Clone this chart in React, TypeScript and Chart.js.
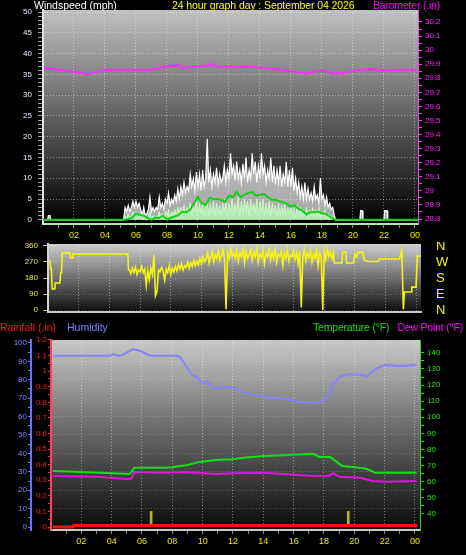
import React, { useEffect, useRef } from 'react';
import { Chart, registerables } from 'chart.js';

Chart.register(...registerables);

const FONT = '"Liberation Sans", Arial, Helvetica, sans-serif';
Chart.defaults.font.family = FONT;

// ---------- shared hour axis ----------
const hourTicks = [1, 2, 3, 4, 5, 6, 7, 8, 9, 10, 11, 12, 13, 14, 15, 16, 17, 18, 19, 20, 21, 22, 23, 24];

// ---------- panel 1 : wind (mph) & barometer (in) ----------
const windTickValues = Array.from({ length: 51 }, (_, i) => i);
const baroTickValues = [28.8, 28.85, 28.9, 28.95, 29, 29.05, 29.1, 29.15, 29.2, 29.25, 29.3, 29.35, 29.4, 29.45, 29.5, 29.55, 29.6, 29.65, 29.7, 29.75, 29.8, 29.85, 29.9, 29.95, 30, 30.05, 30.1, 30.15, 30.2];

const baroHours = [0.06, 1.1, 1.9, 2.85, 3.35, 3.9, 5.0, 6.9, 7.4, 7.75, 8.4, 8.85, 9.0, 9.5, 10.6, 11.0, 11.2, 12.3, 12.7, 13.5, 14.2, 15.0, 15.9, 16.6, 17.0, 17.6, 18.2, 18.7, 19.5, 20.5, 21.2, 21.9, 23.0, 24.1];
const baroValues = [29.873, 29.86, 29.847, 29.83, 29.84, 29.86, 29.86, 29.86, 29.87, 29.88, 29.89, 29.89, 29.87, 29.88, 29.89, 29.9, 29.88, 29.885, 29.88, 29.88, 29.875, 29.865, 29.85, 29.84, 29.83, 29.85, 29.855, 29.83, 29.84, 29.86, 29.865, 29.855, 29.86, 29.86];

// gusts: quiet periods
const gustEarlyHours = [0, 0.3, 0.35, 0.45, 0.5, 5.1];
const gustEarly = [0, 0, 1, 1, 0, 0];
const gustLateHours = [19.0, 20.45, 20.5, 20.6, 20.65, 22.0, 22.05, 22.2, 22.25, 24.2];
const gustLate = [0, 0, 2.2, 2.2, 0, 0, 2.2, 2.2, 0, 0];

// active period: readings every 0.1 h from 5.2 h
const windStart = 5.2;
const windStep = 0.1;
const windGust = [
  0, 3, 2, 3.5, 2, 3, 4.5, 3, 4.5, 3,
  4, 2.5, 1, 3, 1, 1.5, 2.5, 5.5, 2, 3,
  2, 3, 2.5, 5.5, 3, 4, 2.5, 5, 4, 6.5,
  3.5, 5, 4, 6, 4.5, 7.5, 5, 8, 6, 9,
  6.5, 8, 7, 11, 8, 10, 7, 11.5, 8, 11,
  7, 12, 8, 10, 19.5, 9, 12, 8, 11, 9,
  12.5, 8.5, 11, 9, 10, 13, 9, 12, 10, 16,
  11, 13, 9.5, 14, 10, 12, 9, 13.5, 10, 15,
  9, 12, 10, 16, 11, 14, 9, 13, 10, 16,
  11, 13, 9, 12, 10, 15, 9, 13, 8.5, 12,
  9, 13, 8, 11, 9, 14, 8, 12, 8, 12.5,
  7, 10, 6.5, 9, 5.5, 8, 5, 9, 5, 7.5,
  5, 6.5, 4.5, 8, 5, 6, 4, 10, 5, 6,
  3.5, 5.5, 3, 4, 2.5, 3, 1, 0,
];
const windSpeed = [
  0, 1, 0, 1.5, 0.5, 1, 2, 0.5, 2, 1,
  1.5, 0.5, 0, 1, 0, 0, 1, 2, 0, 1,
  0, 1, 0.5, 2, 0.5, 1.5, 0, 2, 1, 2.5,
  0.5, 2, 1, 2.5, 1, 3, 1.5, 3, 1, 3.5,
  1, 3, 1.5, 4, 1, 3.5, 2, 4.5, 1, 4,
  1.5, 4, 1, 3.5, 4.5, 1, 4, 1.5, 4.5, 1,
  4, 1.5, 3.5, 1, 4, 2, 4.5, 1, 4, 2,
  5, 1.5, 4, 2, 5.5, 1, 4.5, 1.5, 5, 2,
  4.5, 1, 5, 2, 4, 1.5, 5, 1, 4.5, 2,
  5, 1, 4, 1.5, 4.5, 1, 4, 1.5, 3.5, 1,
  4, 1, 3.5, 1.5, 4, 1, 3, 1.5, 3.5, 1,
  3, 0.5, 3.5, 1, 3, 0.5, 2.5, 1, 3, 0.5,
  2.5, 1, 3, 0.5, 2.5, 1, 3, 0.5, 2, 1,
  2.5, 0.5, 1.5, 1, 1, 0.5, 0, 0,
];
const calmHoursBefore = [0, 5.1];
const calmHoursAfter = [19.0, 24.2];

// 10-minute average, every 0.25 h from 5.25 h
const avgStart = 5.25;
const avgStep = 0.25;
const windAverage = [
  0, 0.2, 0.5, 1.5, 1.2, 1, 0.5, 0, 0.5, 0.5, 1, 0, 0.5, 0.8, 1.2, 2, 1.8, 2.5, 4, 5.5,
  4, 3.6, 5.3, 5, 5, 4.8, 4.3, 5.8, 5.5, 6.7, 5.5, 6, 6.5, 6.7, 5.8, 6, 6.2, 5.5, 4.9,
  4.8, 4.5, 4.2, 3.8, 3.2, 3.5, 2.6, 2.2, 1.3, 1.8, 1.8, 2, 1.6, 1.4, 0.8, 0.2, 0,
];

// ---------- panel 2 : wind direction ----------
const dirTickValues = [0, 90, 180, 270, 360];
const dirCompass = ['N', 'E', 'S', 'W', 'N'];
const dirEarlyHours = [0.13, 0.18, 0.22, 0.27, 0.45, 0.47, 0.78, 0.82, 0.88, 0.93, 1.43, 1.47, 1.58, 1.62, 5.2, 5.25];
const dirEarly = [281, 232, 232, 118, 118, 152, 152, 208, 208, 320, 320, 292, 292, 315, 315, 225];
const dirStart = 5.3;
const dirStep = 0.1;
const dirActive = [
  225, 205, 235, 210, 240, 200, 225, 215, 245, 210,
  230, 140, 220, 170, 235, 200, 310, 80, 105, 225,
  215, 240, 220, 170, 230, 210, 250, 200, 235, 215,
  245, 220, 255, 230, 260, 225, 250, 240, 270, 235,
  265, 245, 280, 250, 275, 255, 290, 260, 300, 270,
  285, 320, 265, 300, 330, 270, 310, 290, 335, 280,
  305, 340, 285, 5, 320, 290, 345, 300, 320, 290,
  335, 275, 320, 300, 345, 265, 330, 290, 310, 340,
  280, 325, 300, 350, 270, 315, 295, 335, 260, 320,
  300, 340, 280, 325, 290, 345, 270, 315, 300, 330,
  250, 320, 290, 340, 275, 310, 300, 335, 285, 320,
  260, 330, 15, 300, 340, 280, 320, 295, 335, 270,
  315, 290, 340, 250, 320, 300, 0, 330, 285, 345,
  300, 325, 290, 320,
];
const dirLateHours = [18.65, 19.15, 19.2, 19.4, 19.45, 19.9, 20.0, 20.1, 20.2, 20.5, 20.6, 20.85, 21.5, 21.6, 22.9, 23.05, 23.15, 23.22, 23.65, 23.7, 23.98, 24.05, 24.3];
const dirLate = [264, 264, 326, 326, 264, 264, 315, 298, 324, 324, 281, 273, 273, 287, 287, 337, 5, 101, 101, 129, 129, 303, 303];

// ---------- panel 3 : rain, humidity, temperature, dew point ----------
const humTickValues = Array.from({ length: 21 }, (_, i) => i * 5);
const rainTickValues = Array.from({ length: 25 }, (_, i) => i * 0.05);
const tempTickValues = Array.from({ length: 21 }, (_, i) => 40 + i * 5);

const humHours = [0.13, 3.9, 4.1, 4.4, 4.75, 5.4, 5.9, 6.3, 6.6, 8.3, 8.5, 9.0, 9.3, 9.6, 10.0, 10.3, 10.7, 12.0, 12.7, 14.0, 15.3, 16.4, 17.5, 18.1, 18.4, 18.6, 19.1, 19.7, 20.6, 20.8, 21.0, 21.4, 22.0, 23.0, 24.1];
const humValues = [93, 93, 94, 93, 93.5, 96.7, 95.6, 94, 93, 93, 92.4, 86.4, 82.6, 81.5, 77.7, 79.3, 75.5, 76, 73, 70.7, 70, 68, 67.4, 69, 73.4, 78, 82, 83, 82.6, 81.5, 83, 85.9, 88, 87.5, 88];

const tempHours = [0.13, 1.5, 3.2, 5.2, 5.5, 7.6, 8.0, 9.0, 9.8, 10.9, 12.0, 12.7, 14.0, 15.3, 17.3, 17.7, 18.4, 19.2, 19.9, 20.8, 21.4, 24.1];
const tempValues = [66.7, 66.2, 65.5, 64.8, 68.6, 68.6, 69, 70.4, 72.3, 73.5, 74, 74.8, 76, 76.5, 77.3, 75.4, 75.4, 69.8, 69.2, 68, 65.5, 65.5];

const dewHours = [0.13, 3.2, 3.9, 4.9, 5.3, 5.5, 7.6, 8.7, 10.9, 12.0, 14.0, 15.3, 17.3, 18.3, 18.6, 19.0, 20.4, 21.2, 22.1, 24.1];
const dewValues = [63.6, 63, 62.4, 61.7, 62, 66, 65.5, 66, 64.8, 65.2, 65.5, 64.8, 63.6, 63.5, 65.5, 63, 62.4, 60.5, 59.9, 60.5];

const rainHours = [0.13, 1.45, 1.5, 24.05, 24.1];
const rainValues = [0, 0, 0.01, 0.01, 0];

const rainRateHours = [6.6, 19.6];
const rainRateValues = [0.1, 0.1];

// ---------- helpers ----------
const pts = (xs: number[], ys: number[]) => xs.map((x, i) => ({ x, y: ys[i] }));
const stepPts = (start: number, step: number, ys: number[]) => ys.map((y, i) => ({ x: start + i * step, y }));
const zeros = (xs: number[]) => xs.map((x) => ({ x, y: 0 }));

const fixW = (w: number) => (s: any) => { s.width = w; s.paddingTop = 0; s.paddingBottom = 0; };
const fixH = (h: number) => (s: any) => { s.height = h; s.paddingLeft = 0; s.paddingRight = 0; };
const setTicks = (vals: number[]) => (s: any) => { s.ticks = vals.map((v) => ({ value: v })); };
const hourLabel = (v: any) => (Number(v) % 2 === 0 ? String(Number(v) % 24).padStart(2, '0') : '');

const DOT = 'rgba(255,255,255,0.42)';

const bgPlugin = (stops: [number, string][]) => ({
  id: 'panelBg',
  beforeDraw(chart: any) {
    const { ctx, chartArea: a } = chart;
    const g = ctx.createLinearGradient(0, a.top, 0, a.bottom);
    stops.forEach(([o, c]) => g.addColorStop(o, c));
    ctx.save();
    ctx.fillStyle = g;
    ctx.fillRect(a.left, a.top, a.right - a.left, a.bottom - a.top);
    ctx.restore();
  },
});

const baseOptions = (padTop: number) => ({
  animation: false,
  responsive: false,
  maintainAspectRatio: false,
  events: [],
  layout: { autoPadding: false, padding: { top: padTop, left: 0, right: 0, bottom: 0 } },
  plugins: { legend: { display: false }, tooltip: { enabled: false }, title: { display: false } },
  elements: { point: { radius: 0 }, line: { tension: 0 } },
});

const hourAxis = (max: number, height: number, showLabels: boolean, borderColor: string) => ({
  type: 'linear',
  min: 0,
  max,
  offset: false,
  afterFit: fixH(height),
  afterBuildTicks: setTicks(hourTicks),
  ticks: {
    display: showLabels,
    autoSkip: false,
    maxRotation: 0,
    color: '#e8e800',
    font: { size: 9 },
    padding: 2,
    callback: hourLabel,
  },
  grid: {
    offset: false,
    color: (c: any) => (c.tick && c.tick.value % 2 === 0 ? DOT : 'transparent'),
    tickColor: '#8a8a8a',
    tickLength: showLabels ? 4 : 0,
    drawTicks: showLabels,
  },
  border: { color: borderColor, width: 2, dash: [1, 2] },
});

export default function App() {
  const ref1 = useRef<HTMLCanvasElement>(null);
  const ref2 = useRef<HTMLCanvasElement>(null);
  const ref3 = useRef<HTMLCanvasElement>(null);

  useEffect(() => {
    const gustPts = [...pts(gustEarlyHours, gustEarly), ...stepPts(windStart, windStep, windGust), ...pts(gustLateHours, gustLate)];
    const speedPts = [...zeros(calmHoursBefore), ...stepPts(windStart, windStep, windSpeed), ...zeros(calmHoursAfter)];
    const avgPts = [...zeros(calmHoursBefore), ...stepPts(avgStart, avgStep, windAverage), ...zeros(calmHoursAfter)];

    const c1 = new Chart(ref1.current as HTMLCanvasElement, {
      type: 'line',
      data: {
        datasets: [
          { label: 'Barometer', data: pts(baroHours, baroValues), yAxisID: 'yb', borderColor: '#ff2cff', borderWidth: 2, fill: false, order: 0 },
          { label: 'Average wind', data: avgPts, yAxisID: 'y', borderColor: '#14d014', borderWidth: 2, fill: false, order: 1 },
          { label: 'Wind speed', data: speedPts, yAxisID: 'y', borderColor: '#c8f8c8', backgroundColor: 'rgba(180,240,180,0.92)', borderWidth: 1, fill: 'origin', order: 2 },
          { label: 'Wind gust', data: gustPts, yAxisID: 'y', borderColor: '#ffffff', backgroundColor: 'rgba(232,232,232,0.72)', borderWidth: 1.2, fill: 'origin', order: 3 },
        ],
      },
      options: {
        ...baseOptions(10),
        scales: {
          x: hourAxis(24.2, 18, true, '#a8eca8'),
          y: {
            position: 'left',
            min: -1,
            max: 50.5,
            afterFit: fixW(43),
            afterBuildTicks: setTicks(windTickValues),
            ticks: { color: '#e2eaff', font: { size: 8 }, padding: 6, autoSkip: false, callback: (v: any) => (v % 5 === 0 ? String(v) : '') },
            grid: { color: (c: any) => (c.tick && c.tick.value % 5 === 0 ? DOT : 'transparent'), tickColor: '#9a9a9a', tickLength: 5 },
            border: { color: '#e4e4e4', width: 2, dash: [1, 2] },
          },
          yb: {
            position: 'right',
            min: 28.7645,
            max: 30.285,
            afterFit: fixW(48),
            afterBuildTicks: setTicks(baroTickValues),
            ticks: {
              color: '#ff22ff',
              font: { size: 8 },
              padding: 3,
              autoSkip: false,
              callback: (v: any) => {
                const t = Math.round(v * 100);
                return t % 10 === 0 ? String(t / 100) : '';
              },
            },
            grid: { drawOnChartArea: false, tickColor: '#ff30ff', tickLength: 4 },
            border: { color: '#e050e0', width: 1 },
          },
        },
      } as any,
      plugins: [bgPlugin([[0, '#c0c0c0'], [0.45, '#6a6a6a'], [1, '#000000']])],
    } as any);

    const dirPts = [...pts(dirEarlyHours, dirEarly), ...stepPts(dirStart, dirStep, dirActive), ...pts(dirLateHours, dirLate)];

    const c2 = new Chart(ref2.current as HTMLCanvasElement, {
      type: 'line',
      data: {
        datasets: [
          { label: 'Wind direction', data: dirPts, yAxisID: 'y', borderColor: '#f4f414', borderWidth: 1.6, fill: false },
        ],
      },
      options: {
        ...baseOptions(2),
        scales: {
          x: hourAxis(24.3, 6, false, '#c8c8c8'),
          y: {
            position: 'left',
            min: -11,
            max: 371,
            afterFit: fixW(48),
            afterBuildTicks: setTicks(dirTickValues),
            ticks: { color: '#e4e460', font: { size: 8 }, padding: 5, autoSkip: false },
            grid: { color: 'rgba(255,255,255,0.22)', tickColor: '#c8c850', tickLength: 5 },
            border: { color: '#d4d4d4', width: 2, dash: [1, 2] },
          },
          yc: {
            position: 'right',
            min: -11,
            max: 371,
            afterFit: fixW(45),
            afterBuildTicks: setTicks(dirTickValues),
            ticks: { color: '#f4f414', font: { size: 13 }, padding: 15, autoSkip: false, callback: (v: any) => dirCompass[dirTickValues.indexOf(Number(v))] },
            grid: { drawOnChartArea: false, drawTicks: false },
            border: { display: false },
          },
        },
      } as any,
      plugins: [bgPlugin([[0, '#cecece'], [0.5, '#6e6e6e'], [1, '#0e0e0e']])],
    } as any);

    const c3 = new Chart(ref3.current as HTMLCanvasElement, {
      type: 'line',
      data: {
        datasets: [
          { label: 'Humidity', data: pts(humHours, humValues), yAxisID: 'yh', borderColor: '#8484ff', borderWidth: 2, fill: false, order: 1 },
          { label: 'Temperature', data: pts(tempHours, tempValues), yAxisID: 'yt', borderColor: '#12e012', borderWidth: 2, fill: false, order: 1 },
          { label: 'Dew Point', data: pts(dewHours, dewValues), yAxisID: 'yt', borderColor: '#e014e0', borderWidth: 2, fill: false, order: 1 },
          { label: 'Rainfall', data: pts(rainHours, rainValues), yAxisID: 'yr', borderColor: '#ff1010', borderWidth: 3, fill: false, order: 0 },
          { type: 'bar', label: 'Rain rate', data: pts(rainRateHours, rainRateValues), yAxisID: 'yr', backgroundColor: '#b4b428', barThickness: 2, order: 2 },
        ],
      },
      options: {
        ...baseOptions(22),
        scales: {
          x: hourAxis(24.33, 25, true, '#c8c8c8'),
          yh: {
            position: 'left',
            weight: 1,
            min: -1.6,
            max: 101.6,
            afterFit: fixW(31),
            afterBuildTicks: setTicks(humTickValues),
            ticks: { color: '#8484ff', font: { size: 8 }, padding: 1, autoSkip: false, callback: (v: any) => (v % 10 === 0 ? String(v) : '') },
            grid: { color: (c: any) => (c.tick && c.tick.value % 10 === 0 && c.tick.value > 0 ? 'rgba(255,255,255,0.22)' : 'transparent'), tickColor: '#7a7aff', tickLength: 3 },
            border: { color: '#7070ff', width: 2, dash: [1, 2] },
          },
          yr: {
            position: 'left',
            weight: 0,
            min: -0.019,
            max: 1.2,
            afterFit: fixW(20),
            afterBuildTicks: setTicks(rainTickValues),
            ticks: {
              color: '#ff1818',
              font: { size: 8 },
              padding: 1,
              autoSkip: false,
              callback: (v: any) => {
                const t = Math.round(v * 100);
                return t % 10 === 0 ? String(t / 100) : '';
              },
            },
            grid: { drawOnChartArea: false, tickColor: '#ff3030', tickLength: 3 },
            border: { color: '#ff4646', width: 2 },
          },
          yt: {
            position: 'right',
            min: 30,
            max: 148,
            afterFit: fixW(46),
            afterBuildTicks: setTicks(tempTickValues),
            ticks: { color: '#22e022', font: { size: 8 }, padding: 3, autoSkip: false, callback: (v: any) => (v % 10 === 0 ? String(v) : '') },
            grid: { drawOnChartArea: false, tickColor: '#22e022', tickLength: 4 },
            border: { color: '#30d030', width: 1 },
          },
        },
      } as any,
      plugins: [bgPlugin([[0, '#c8c8c8'], [0.47, '#6a6a6a'], [1, '#0a0a0a']])],
    } as any);

    return () => {
      c1.destroy();
      c2.destroy();
      c3.destroy();
    };
  }, []);

  const title: React.CSSProperties = {
    position: 'absolute',
    fontSize: 10.5,
    lineHeight: '11px',
    whiteSpace: 'nowrap',
    fontFamily: FONT,
  };
  const canvasStyle = (top: number, h: number): React.CSSProperties => ({
    position: 'absolute',
    left: 0,
    top,
    width: 466,
    height: h,
    display: 'block',
  });

  return (
    <div style={{ position: 'fixed', left: 0, top: 0, width: 466, height: 555, background: '#000', overflow: 'hidden' }}>
      <canvas ref={ref1} width={466} height={242} style={canvasStyle(0, 242)} />
      <canvas ref={ref2} width={466} height={76} style={canvasStyle(242, 76)} />
      <canvas ref={ref3} width={466} height={237} style={canvasStyle(318, 237)} />

      <span style={{ ...title, left: 34, top: 0, color: '#ffffff' }}>Windspeed (mph)</span>
      <span style={{ ...title, left: 172, top: 0, color: '#ffff00', letterSpacing: '-0.1px' }}>24 hour graph day : September 04 2026</span>
      <span style={{ ...title, right: 26, top: 0, color: '#ff00ff', letterSpacing: '-0.2px' }}>Barometer (.in)</span>

      <span style={{ ...title, left: 0, top: 322, color: '#ff1010' }}>Rainfall (.in)</span>
      <span style={{ ...title, left: 67, top: 322, color: '#8080ff' }}>Humidity</span>
      <span style={{ ...title, left: 313, top: 322, color: '#10e010', letterSpacing: '-0.2px' }}>Temperature (°F)</span>
      <span style={{ ...title, right: 3, top: 322, color: '#ff00ff', letterSpacing: '-0.2px' }}>Dew Point (°F)</span>
    </div>
  );
}
